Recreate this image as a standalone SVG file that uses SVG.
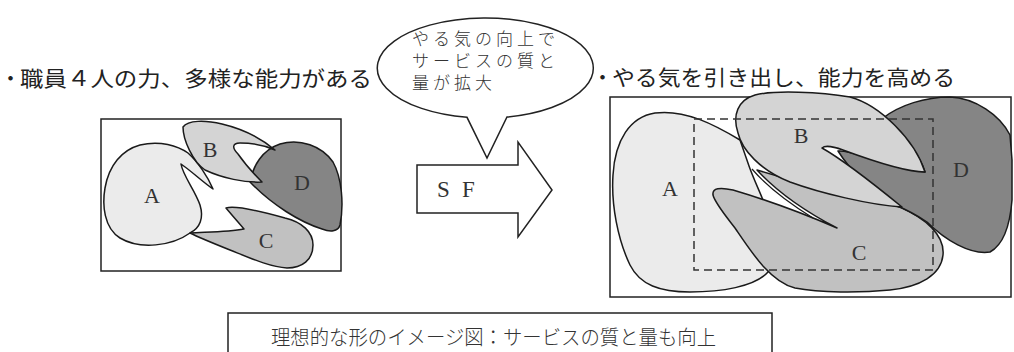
<svg xmlns="http://www.w3.org/2000/svg" width="1014" height="352" viewBox="0 0 1014 352">
<style>
.frame{fill:#fff;stroke:#222;stroke-width:1.5}
.blob{stroke:#1a1a1a;stroke-width:1.5;stroke-linejoin:round}
.a{fill:#ebebeb}.b{fill:#d4d4d4}.c{fill:#c1c1c1}.d{fill:#858585}
.lbl{font-family:"Liberation Serif","Noto Sans CJK JP",serif;font-size:22px;fill:#333;text-anchor:middle}
.title{font-family:"Noto Sans CJK JP","Noto Sans CJK SC",sans-serif;font-size:21px;fill:#222}
.mincho{font-family:"Liberation Serif","Noto Sans CJK JP",serif;font-weight:300;fill:#333}
.line{fill:#fff;stroke:#222;stroke-width:1.5;stroke-linejoin:miter}
.dash{fill:none;stroke:#333;stroke-width:1.5;stroke-dasharray:8 5}
</style>
<rect width="1014" height="352" fill="#fff"/>

<g id="title-left"><text class="title" x="0" y="86">・</text><text class="title" x="20" y="86" textLength="352" lengthAdjust="spacingAndGlyphs">職員４人の力、多様な能力がある</text></g>
<g id="title-right"><text class="title" x="592" y="85">・</text><text class="title" x="612" y="85" textLength="343" lengthAdjust="spacingAndGlyphs">やる気を引き出し、能力を高める</text></g>

<g id="bubble">
<path class="line" d="M467,117.3 A108,50 0 1 1 507,117 L487,158 Z"/>
<text class="mincho" font-size="17" letter-spacing="4"><tspan x="412" y="45">やる気の向上で</tspan><tspan x="412" y="67">サービスの質と</tspan><tspan x="412" y="89">量が拡大</tspan></text>
</g>

<g id="left-diagram">
<rect class="frame" x="101" y="119" width="240" height="152"/>
<path class="blob a" d="M190,233 C172,246 140,250 120,238 C104,228 102,205 105,188 C109,165 122,150 140,145 C160,140 178,146 188,153 C198,162 208,177 213,189 C204,183 190,170 181,164 C183,176 195,190 200,205 C204,218 200,228 190,233 Z"/>
<path class="blob c" d="M190,233 C205,232 228,232 244,229 C238,222 231,214 226,208 C236,205 260,211 285,218 C302,222 313,232 313,245 C313,260 302,268 287,268 C270,267 250,258 230,250 C215,244 200,238 190,233 Z"/>
<path class="blob d" d="M250,182 C253,166 262,150 280,144 C300,138 322,146 333,162 C342,178 344,205 340,225 C338,232 330,232 322,229 C300,222 272,205 250,182 Z"/>
<path class="blob b" d="M183,127 C188,120 205,120 222,124 C243,129 262,139 275,150 C266,146 255,143 240,143 C232,143 232,148 238,154 C245,164 254,174 262,182 C245,183 222,178 205,170 C193,162 183,140 183,127 Z"/>
<text class="lbl" x="152" y="203">A</text>
<text class="lbl" x="210" y="157">B</text>
<text class="lbl" x="266" y="248">C</text>
<text class="lbl" x="302" y="190">D</text>
</g>

<g id="sf-arrow">
<path class="line" d="M417,165 L518,165 L518,142 L552,190 L518,237 L518,213 L417,213 Z"/>
<text font-family="Liberation Serif, serif" font-size="23" fill="#333" x="437 462" y="197">SF</text>
</g>

<g id="right-diagram">
<rect class="frame" x="610" y="97" width="401" height="200"/>
<path class="blob a" d="M768,272 C755,287 720,292 690,292 C660,292 640,285 630,265 C618,240 611,205 613,175 C615,140 630,117 655,113 C685,109 715,125 740,140 L749,166 C754,180 760,192 765,205 C770,230 780,255 768,272 Z"/>
<path class="blob c" d="M713,195 C712,188 720,187 733,190 C760,198 800,212 837,228 C812,215 780,195 757,170 C790,180 850,197 900,207 C925,218 945,235 943,255 C941,275 920,287 890,290 C860,293 820,293 795,288 C770,282 750,250 735,228 C725,215 715,203 713,195 Z"/>
<path fill="none" stroke="#1a1a1a" stroke-width="1.2" d="M752,169 C770,190 792,205 813,218"/>
<path class="blob d" d="M883,118 C900,105 925,97 950,97 C975,98 1000,115 1010,135 L1012,160 L1012,200 C1010,225 1003,245 990,252 C970,255 945,240 927,222 C915,214 905,209 895,205 C870,190 850,170 838,151 C845,150 860,155 870,158 C890,165 910,170 925,172 C920,155 900,130 883,118 Z"/>
<path class="blob b" d="M738,133 C732,115 738,100 755,95 C775,90 820,92 850,97 C880,105 915,140 925,172 C905,172 870,160 843,150 C835,147 825,145 822,148 C840,158 875,185 902,207 C870,205 820,193 790,182 C760,170 742,150 738,133 Z"/>
<rect class="dash" x="694" y="119" width="239" height="151"/>
<text class="lbl" x="670" y="196">A</text>
<text class="lbl" x="801" y="143">B</text>
<text class="lbl" x="859" y="260">C</text>
<text class="lbl" x="961" y="177">D</text>
</g>

<g id="caption">
<rect class="frame" x="228" y="313" width="544" height="50"/>
<text class="mincho" font-size="20" x="271" y="345" textLength="445" lengthAdjust="spacingAndGlyphs">理想的な形のイメージ図：サービスの質と量も向上</text>
</g>
</svg>
